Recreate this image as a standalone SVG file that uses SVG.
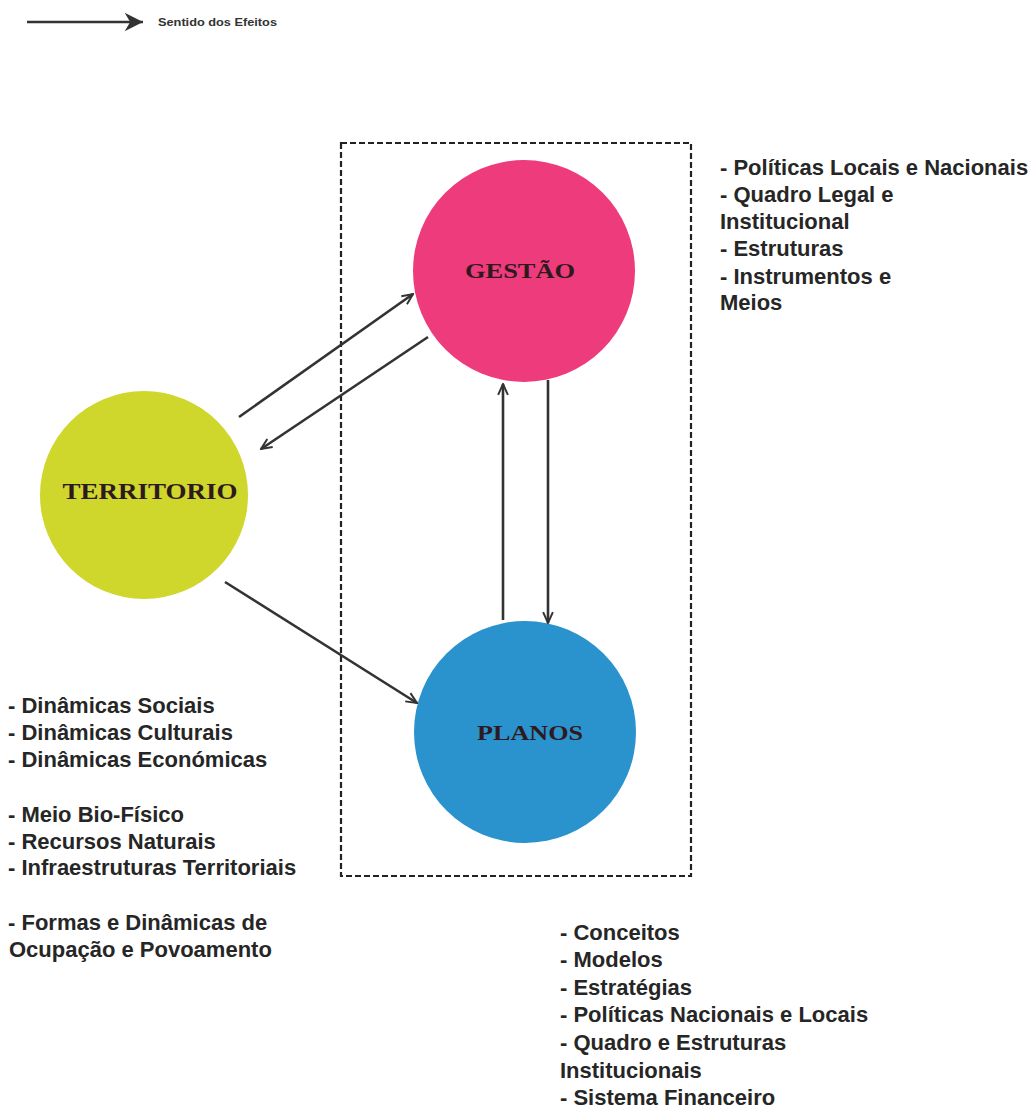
<svg xmlns="http://www.w3.org/2000/svg" width="1033" height="1110" viewBox="0 0 1033 1110">
<style>
.lbl{font-family:"Liberation Serif","Times New Roman",serif;font-weight:bold;fill:#2e1a1e;text-anchor:middle}
.side{font-family:"Liberation Sans",Arial,sans-serif;font-weight:bold;font-size:22px;fill:#262626}
.conn{stroke:#333;stroke-width:2.6;fill:none;marker-end:url(#arr)}
</style>
<defs>
<marker id="arr" viewBox="0 0 12 12" refX="11" refY="6" markerWidth="13" markerHeight="13" orient="auto" markerUnits="userSpaceOnUse">
<path d="M1,1.5 L11,6 L1,10.5" fill="none" stroke="#333" stroke-width="1.8"/>
</marker>
<marker id="legarr" viewBox="0 0 12 12" refX="11" refY="6" markerWidth="22" markerHeight="22" orient="auto" markerUnits="userSpaceOnUse">
<path d="M1,1 L11,6 L1,11 L4,6 Z" fill="#333"/>
</marker>
</defs>
<rect width="1033" height="1110" fill="#fff"/>
<g id="legend">
<line x1="27" y1="22" x2="143" y2="22" stroke="#333" stroke-width="2.4" marker-end="url(#legarr)"/>
<text x="158" y="26" font-family="Liberation Sans,Arial,sans-serif" font-weight="bold" font-size="10.5" fill="#333" textLength="119" lengthAdjust="spacingAndGlyphs">Sentido dos Efeitos</text>
</g>
<rect id="frame" x="341" y="143" width="350" height="733" fill="none" stroke="#222" stroke-width="2.2" stroke-dasharray="6,3"/>
<g id="gestao">
<circle cx="524" cy="271" r="111" fill="#ee3b7b"/>
<text class="lbl" x="520" y="278" font-size="21" textLength="110" lengthAdjust="spacingAndGlyphs">GESTÃO</text>
</g>
<g id="territorio">
<circle cx="144" cy="495" r="104" fill="#cfd62c"/>
<text class="lbl" x="150" y="499" font-size="23" textLength="175" lengthAdjust="spacingAndGlyphs">TERRITORIO</text>
</g>
<g id="planos">
<circle cx="525" cy="732" r="111" fill="#2a92cc"/>
<text class="lbl" x="530" y="740" font-size="22" textLength="106" lengthAdjust="spacingAndGlyphs">PLANOS</text>
</g>
<g id="connectors">
<line class="conn" x1="239" y1="417" x2="413" y2="294"/>
<line class="conn" x1="428" y1="337" x2="261" y2="449"/>
<line class="conn" x1="503" y1="620" x2="503" y2="384"/>
<line class="conn" x1="548" y1="380" x2="548" y2="623"/>
<line class="conn" x1="225" y1="582" x2="417" y2="703"/>
</g>
<g id="gestao-notes" class="side">
<text x="720" y="175">- Políticas Locais e Nacionais</text>
<text x="720" y="202">- Quadro Legal e</text>
<text x="720" y="229">Institucional</text>
<text x="720" y="256">- Estruturas</text>
<text x="720" y="284">- Instrumentos e</text>
<text x="720" y="310">Meios</text>
</g>
<g id="territorio-notes" class="side">
<text x="8" y="713">- Dinâmicas Sociais</text>
<text x="8" y="740">- Dinâmicas Culturais</text>
<text x="8" y="767">- Dinâmicas Económicas</text>
<text x="8" y="822">- Meio Bio-Físico</text>
<text x="8" y="849">- Recursos Naturais</text>
<text x="8" y="875">- Infraestruturas Territoriais</text>
<text x="8" y="930">- Formas e Dinâmicas de</text>
<text x="9" y="957">Ocupação e Povoamento</text>
</g>
<g id="planos-notes" class="side">
<text x="560" y="940">- Conceitos</text>
<text x="560" y="967">- Modelos</text>
<text x="560" y="995">- Estratégias</text>
<text x="560" y="1022">- Políticas Nacionais e Locais</text>
<text x="560" y="1050">- Quadro e Estruturas</text>
<text x="560" y="1078">Institucionais</text>
<text x="560" y="1105">- Sistema Financeiro</text>
</g>
</svg>
